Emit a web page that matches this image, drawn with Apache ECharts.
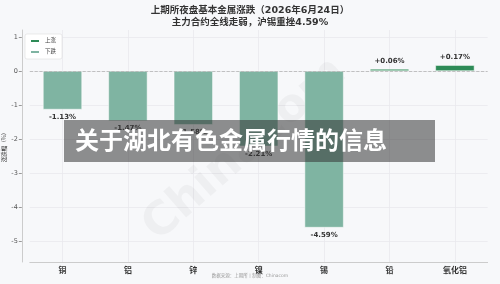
<!DOCTYPE html>
<html>
<head>
<meta charset="utf-8">
<script src="https://cdn.jsdelivr.net/npm/echarts@6/dist/echarts.min.js"></script>
<style>html,body{margin:0;padding:0;background:#f7f8fa;}#c{width:500px;height:284px;}</style>
</head>
<body>
<div id="c"></div>
<script>
const categories = ['铜', '铝', '锌', '镍', '锡', '铅', '氧化铝'];
const changes = [-1.13, -1.47, -1.58, -2.21, -4.59, 0.06, 0.17];
const yTicks = [-5, -4, -3, -2, -1, 0, 1];
const titleLine1 = '上期所夜盘基本金属涨跌（2026年6月24日）';
const titleLine2 = '主力合约全线走弱，沪锡重挫4.59%';
const footerText = '数据来源：上期所 | 制图：Chinacom';
const bannerText = '关于湖北有色金属行情的信息';

const upData = changes.map(v => v >= 0 ? v : null);
const downData = changes.map(v => v < 0 ? v : null);

const chart = echarts.init(document.getElementById('c'), null, {renderer: 'canvas'});
const baseFont = '"DejaVu Sans", "Noto Sans CJK SC", sans-serif';
chart.setOption({
  backgroundColor: '#f7f8fa',
  animation: false,
  textStyle: {fontFamily: baseFont},
  title: [
    {text: titleLine1, left: 'center', top: 1, textStyle: {fontSize: 9.5, fontWeight: 'bold', color: '#333', fontFamily: baseFont}},
    {text: titleLine2, left: 'center', top: 13, textStyle: {fontSize: 9.5, fontWeight: 'bold', color: '#333', fontFamily: baseFont}}
  ],
  legend: {
    left: 25, top: 34, orient: 'vertical',
    itemWidth: 10, itemHeight: 4, itemGap: 5,
    backgroundColor: '#ffffff', borderColor: '#dddddd', borderWidth: 0.6, borderRadius: 2,
    padding: [4, 6, 4, 4],
    textStyle: {fontSize: 5.5, color: '#444'},
    data: [{name: '上涨', icon: 'rect'}, {name: '下跌', icon: 'rect'}]
  },
  grid: {left: 29.8, right: 12.4, top: 30, bottom: 22, containLabel: false, outerBoundsMode: 'none'},
  xAxis: {
    type: 'category', data: categories, boundaryGap: true,
    axisLine: {show: true, onZero: false, lineStyle: {color: '#cccccc', width: 1}},
    axisTick: {show: false, alignWithLabel: true},
    axisLabel: {
      fontSize: 8, color: '#333', margin: 4,
      fontFamily: '"Noto Sans CJK SC", sans-serif', fontWeight: 'bold'
    },
    splitLine: {show: true, alignWithLabel: true, lineStyle: {color: '#e8e9ee', width: 0.8}}
  },
  yAxis: {
    type: 'value', min: -5.6, max: 1.2, offset: 8,
    name: '涨跌幅（%）', nameLocation: 'middle', nameGap: 15, nameMoveOverlap: false,
    nameTextStyle: {fontSize: 5.5, color: '#333', fontFamily: '"Noto Sans CJK SC", sans-serif'},
    axisLine: {show: true, lineStyle: {color: '#cccccc', width: 1}},
    axisTick: {show: true, length: 3, lineStyle: {color: '#999'}, customValues: yTicks},
    axisLabel: {
      customValues: yTicks,
      fontSize: 6.5, color: '#555', margin: 4,
      formatter: v => String(v)
    },
    splitLine: {show: true, lineStyle: {color: '#e8e9ee', width: 0.8}}
  },
  series: [
    {
      name: '上涨', type: 'bar', data: upData, barWidth: 39, barGap: '-100%',
      itemStyle: {color: '#2e8b57', borderColor: '#ffffff', borderWidth: 0.5},
      label: {show: true, position: 'top', distance: 4, fontSize: 7, fontWeight: 'bold', color: '#333',
        formatter: p => p.value == null ? '' : '+' + p.value.toFixed(2) + '%'},
      markLine: {
        silent: true, symbol: 'none', label: {show: false},
        lineStyle: {color: '#b5b5b5', type: 'dashed', width: 0.8},
        data: [{yAxis: 0}]
      },
      z: 3
    },
    {
      name: '下跌', type: 'bar', data: downData, barWidth: 39, barGap: '-100%',
      itemStyle: {color: '#7fb4a2', borderColor: '#ffffff', borderWidth: 0.5},
      label: {show: true, position: 'bottom', distance: 4, fontSize: 7, fontWeight: 'bold', color: '#333',
        formatter: p => p.value == null ? '' : p.value.toFixed(2) + '%'},
      z: 3
    }
  ],
  graphic: [
    {type: 'text', left: 'center', top: 274, z: 10,
      style: {text: footerText, fontSize: 4.5, fill: '#999', fontFamily: baseFont}},
    {type: 'text', x: 245, y: 150, rotation: 0.72, z: 1, silent: true,
      style: {text: 'Chinacom', fontSize: 46, fontWeight: 'bold', fill: 'rgba(0,0,0,0.035)', align: 'center', verticalAlign: 'middle', fontFamily: baseFont}},
    {type: 'rect', z: 100, shape: {x: 64, y: 120, width: 371, height: 42},
      style: {fill: 'rgba(52,52,52,0.55)'}},
    {type: 'text', z: 101, x: 75, y: 140,
      style: {text: bannerText, fontSize: 24, fontWeight: 'bold', fill: '#ffffff', verticalAlign: 'middle', fontFamily: '"Noto Sans CJK SC", sans-serif'}}
  ]
});
</script>
</body>
</html>
